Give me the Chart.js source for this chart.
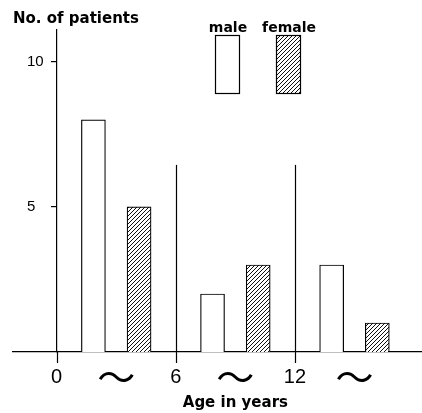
<!DOCTYPE html>
<html>
<head>
<meta charset="utf-8">
<script src="https://cdn.jsdelivr.net/npm/chart.js@4.4.1/dist/chart.umd.min.js"></script>
<style>
  html, body { margin: 0; padding: 0; background: #fff; }
</style>
</head>
<body>
<canvas id="agechart" width="422" height="413"></canvas>
<script>
// data
const groupStarts = [0, 6, 12];
const maleCounts = [8, 2, 3];
const femaleCounts = [5, 3, 1];
const xTickValues = [0, 3, 6, 9, 12, 15];
const xTickLabels = ['0', '〜', '6', '〜', '12', '〜'];
const yTickValues = [5, 10];
const dividerAges = [6, 12];

const maleOffset = 1.85;   // bar centre inside each 6-year group
const femaleOffset = 4.15;
const dividerTop = 6.45;
const xTickLen = 11;

function hatchPattern() {
  const tile = document.createElement('canvas');
  tile.width = 4; tile.height = 4;
  const c = tile.getContext('2d');
  c.fillStyle = '#fff';
  c.fillRect(0, 0, 4, 4);
  c.strokeStyle = '#111';
  c.lineWidth = 1;
  c.beginPath();
  c.moveTo(0, 4); c.lineTo(4, 0);
  c.moveTo(-1, 1); c.lineTo(1, -1);
  c.moveTo(3, 5); c.lineTo(5, 3);
  c.stroke();
  return c.createPattern(tile, 'repeat');
}

const canvas = document.getElementById('agechart');
const hatch = hatchPattern();
const yTicks = (scale) => { scale.ticks = yTickValues.map((v) => ({ value: v })); };
const isMainTick = (ctx) => !!ctx.tick && ctx.tick.value % 6 === 0;

// separators at 6 and 12, the 0/6/12 tick marks, legend boxes and the x title
const extras = {
  id: 'extras',
  afterDraw(chart) {
    const ctx = chart.ctx;
    const xs = chart.scales.x, ys = chart.scales.y;
    const base = ys.getPixelForValue(0);
    ctx.save();
    ctx.strokeStyle = '#000';
    ctx.lineWidth = 1.2;
    xTickValues.filter((v) => v % 6 === 0).forEach((v) => {
      const px = Math.round(xs.getPixelForValue(v)) + 0.5;
      const top = dividerAges.includes(v) ? ys.getPixelForValue(dividerTop) : base;
      ctx.beginPath();
      ctx.moveTo(px, top);
      ctx.lineTo(px, base + xTickLen);
      ctx.stroke();
    });

    // legend: label above a tall sample box
    const boxX = [215, 276];
    ctx.font = 'bold 14px "DejaVu Sans"';
    ctx.textAlign = 'center';
    ctx.textBaseline = 'alphabetic';
    chart.data.datasets.forEach((ds, i) => {
      ctx.fillStyle = ds.backgroundColor;
      ctx.fillRect(boxX[i], 35, 24, 58);
      ctx.lineWidth = 1.2;
      ctx.strokeRect(boxX[i] + 0.5, 35.5, 24, 58);
      ctx.fillStyle = '#000';
      ctx.fillText(ds.label, boxX[i] + 13, 32);
    });

    ctx.font = 'bold 15px "DejaVu Sans"';
    ctx.fillText('Age in years', xs.getPixelForValue(9), 407);
    ctx.restore();
  }
};

new Chart(canvas, {
  type: 'bar',
  data: {
    datasets: [{
      label: 'male',
      data: groupStarts.map((g, i) => ({ x: g + maleOffset, y: maleCounts[i] })),
      backgroundColor: '#fff',
      borderColor: '#000',
      borderWidth: 1.2,
      barThickness: 24,
      grouped: false
    }, {
      label: 'female',
      data: groupStarts.map((g, i) => ({ x: g + femaleOffset, y: femaleCounts[i] })),
      backgroundColor: hatch,
      borderColor: '#000',
      borderWidth: 1.2,
      barThickness: 24,
      grouped: false
    }]
  },
  options: {
    responsive: false,
    animation: false,
    devicePixelRatio: 1,
    layout: { padding: { left: 13, right: 1, top: 0, bottom: 11 } },
    plugins: {
      legend: { display: false },
      tooltip: { enabled: false },
      title: {
        display: true,
        text: 'No. of patients',
        align: 'start',
        color: '#000',
        font: { family: '"DejaVu Sans"', size: 15, weight: 'bold' },
        padding: { top: 10, bottom: 2 }
      }
    },
    scales: {
      x: {
        type: 'linear',
        offset: false,
        min: -2.2,
        max: 18.35,
        afterBuildTicks: (scale) => { scale.ticks = xTickValues.map((v) => ({ value: v })); },
        ticks: {
          color: '#000',
          padding: 13,
          autoSkip: false,
          maxRotation: 0,
          callback: (v) => xTickLabels[xTickValues.indexOf(v)],
          font: (ctx) => isMainTick(ctx)
            ? { family: '"Liberation Sans Narrow", "Liberation Sans"', size: 20, lineHeight: 1.2 }
            : { family: '"Noto Sans CJK JP"', size: 38, lineHeight: 0.63 }
        },
        grid: { offset: false, drawOnChartArea: false, drawTicks: false },
        border: { color: '#000', width: 1.2 }
      },
      y: {
        position: { x: 0 },
        min: 0,
        max: 11.1,
        afterBuildTicks: yTicks,
        ticks: { display: false },
        grid: { drawOnChartArea: false, tickLength: 5, color: '#000', lineWidth: 1.2 },
        border: { color: '#000', width: 1.2 }
      },
      // labels only, drawn inside the plot left of the axis line
      yl: {
        axis: 'y',
        position: 'left',
        min: 0,
        max: 11.1,
        afterBuildTicks: yTicks,
        afterFit: (scale) => { scale.width = 0; },
        ticks: {
          mirror: true,
          padding: 14,
          color: '#000',
          font: { family: '"Liberation Sans Narrow", "Liberation Sans"', size: 15 }
        },
        grid: { display: false },
        border: { display: false }
      }
    }
  },
  plugins: [extras]
});
</script>
</body>
</html>
